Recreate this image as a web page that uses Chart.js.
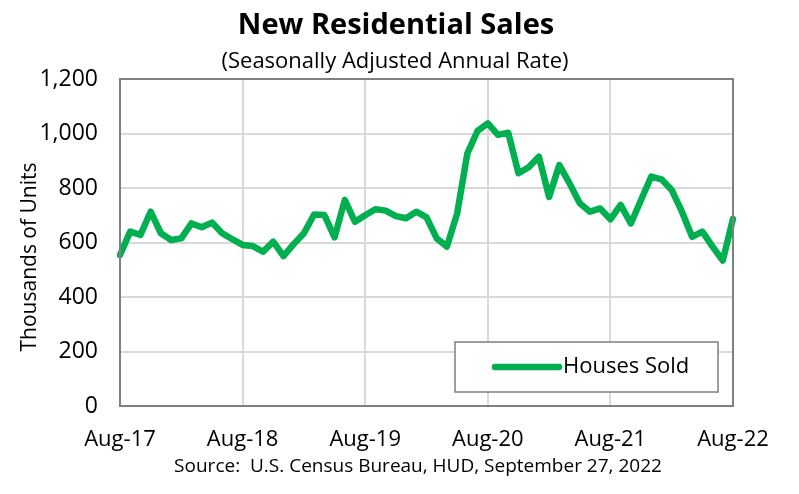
<!DOCTYPE html>
<html>
<head>
<meta charset="utf-8">
<script src="https://cdn.jsdelivr.net/npm/chart.js@4"></script>
<style>
html,body{margin:0;padding:0;background:#fff;}
</style>
</head>
<body>
<canvas id="c" width="799" height="494"></canvas>
<script>
const months = ['Aug-17','Sep-17','Oct-17','Nov-17','Dec-17','Jan-18','Feb-18','Mar-18','Apr-18','May-18','Jun-18','Jul-18',
'Aug-18','Sep-18','Oct-18','Nov-18','Dec-18','Jan-19','Feb-19','Mar-19','Apr-19','May-19','Jun-19','Jul-19',
'Aug-19','Sep-19','Oct-19','Nov-19','Dec-19','Jan-20','Feb-20','Mar-20','Apr-20','May-20','Jun-20','Jul-20',
'Aug-20','Sep-20','Oct-20','Nov-20','Dec-20','Jan-21','Feb-21','Mar-21','Apr-21','May-21','Jun-21','Jul-21',
'Aug-21','Sep-21','Oct-21','Nov-21','Dec-21','Jan-22','Feb-22','Mar-22','Apr-22','May-22','Jun-22','Jul-22','Aug-22'];
const housesSold = [554,640,628,713,634,609,615,670,656,673,634,612,
591,587,566,603,550,594,634,703,701,619,756,676,
700,722,717,697,689,713,692,615,585,707,927,1010,
1037,995,1003,854,876,915,767,884,817,744,713,725,
685,738,670,756,842,832,793,713,621,640,585,534,687];
const yTicks = [0,200,400,600,800,1000,1200];
const titleText = 'New Residential Sales';
const subtitleText = '(Seasonally Adjusted Annual Rate)';
const yTitle = 'Thousands of Units';
const sourceText = 'Source:  U.S. Census Bureau, HUD, September 27, 2022';
const seriesName = 'Houses Sold';

const GREEN = '#00B050';
const FONT = '"Open Sans", sans-serif';

const textsFrameLegend = {
  id: 'textsFrameLegend',
  afterDraw(chart) {
    const {ctx} = chart;
    ctx.save();
    ctx.fillStyle = '#000';
    ctx.textAlign = 'center';
    ctx.textBaseline = 'middle';
    ctx.font = 'bold 29px ' + FONT;
    ctx.fillText(titleText, 396, 26);
    ctx.font = '22px ' + FONT;
    ctx.fillText(subtitleText, 395, 62);
    ctx.font = '19px ' + FONT;
    ctx.fillText(sourceText, 418, 467);
    ctx.translate(30, 257);
    ctx.rotate(-Math.PI / 2);
    ctx.font = '21px ' + FONT;
    ctx.fillText(yTitle, 0, 0);
    ctx.restore();
  },
  afterDatasetsDraw(chart) {
    const {ctx, chartArea: a} = chart;
    ctx.save();
    ctx.strokeStyle = '#808080';
    ctx.lineWidth = 2;
    ctx.strokeRect(a.left, a.top, a.right - a.left, a.bottom - a.top);
    const bw = 263, bh = 50;
    const bx = a.right - 15 - bw, by = a.bottom - 14 - bh;
    ctx.fillStyle = '#fff';
    ctx.fillRect(bx, by, bw, bh);
    ctx.strokeStyle = '#7f7f7f';
    ctx.lineWidth = 1.5;
    ctx.strokeRect(bx, by, bw, bh);
    const cy = by + bh / 2;
    ctx.strokeStyle = GREEN;
    ctx.lineWidth = 6.5;
    ctx.lineCap = 'round';
    ctx.beginPath();
    ctx.moveTo(bx + 40, cy);
    ctx.lineTo(bx + 104, cy);
    ctx.stroke();
    ctx.fillStyle = '#000';
    ctx.font = '22px ' + FONT;
    ctx.textBaseline = 'middle';
    ctx.textAlign = 'left';
    ctx.fillText(chart.data.datasets[0].label, bx + 108, cy);
    ctx.restore();
  }
};

new Chart(document.getElementById('c'), {
  type: 'line',
  data: {
    labels: months,
    datasets: [{
      label: seriesName,
      data: housesSold,
      borderColor: GREEN,
      borderWidth: 6.5,
      pointRadius: 0,
      tension: 0,
      borderJoinStyle: 'round',
      borderCapStyle: 'round',
      fill: false
    }]
  },
  options: {
    responsive: false,
    animation: false,
    devicePixelRatio: 1,
    layout: { padding: { left: 18, right: 66, top: 79, bottom: 0 } },
    plugins: {
      legend: { display: false },
      tooltip: { enabled: false },
      title: { display: false },
      subtitle: { display: false }
    },
    scales: {
      x: {
        type: 'category',
        offset: false,
        afterFit: (s) => { s.height = 88; },
        grid: {
          color: (c) => (c.index % 12 === 0 ? '#d9d9d9' : 'rgba(0,0,0,0)'),
          lineWidth: 2,
          drawTicks: false
        },
        border: { display: false },
        ticks: {
          autoSkip: false, maxRotation: 0, minRotation: 0,
          color: '#000', padding: 21,
          font: { family: FONT, size: 22 },
          callback: function (v, i) { return i % 12 === 0 ? this.getLabelForValue(v) : ''; }
        }
      },
      y: {
        min: 0, max: 1200,
        afterBuildTicks: (s) => { s.ticks = yTicks.map(v => ({ value: v })); },
        afterFit: (s) => { s.width = 102; },
        grid: { color: '#d9d9d9', lineWidth: 2, drawTicks: false },
        border: { display: false },
        ticks: {
          color: '#000', padding: 22,
          font: { family: FONT, size: 23 },
          callback: (v) => v.toLocaleString('en-US')
        }
      }
    }
  },
  plugins: [textsFrameLegend]
});
</script>
</body>
</html>
